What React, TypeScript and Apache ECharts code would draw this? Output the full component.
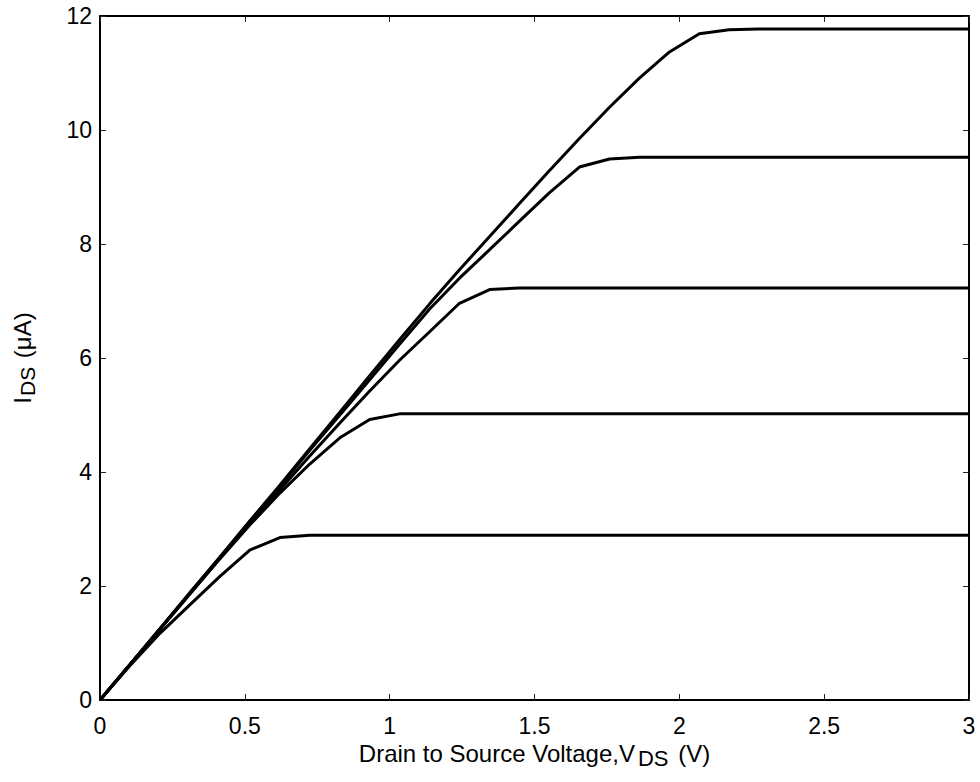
import React, { useEffect, useRef } from "react";
import * as echarts from "echarts";

const voltage = [
  0, 0.103, 0.207, 0.31, 0.414, 0.517, 0.621, 0.724, 0.828, 0.931, 1.034, 1.138, 1.241, 1.345, 1.448,
  1.552, 1.655, 1.759, 1.862, 1.966, 2.069, 2.172, 2.276, 2.379, 2.483, 2.586, 2.69, 2.793, 2.897, 3.0,
];

const curve1 = [
  0, 0.62, 1.25, 1.88, 2.51, 3.14, 3.77, 4.41, 5.05, 5.69, 6.32, 6.95, 7.55, 8.13, 8.71, 9.29, 9.85,
  10.4, 10.91, 11.37, 11.69, 11.76, 11.77, 11.77, 11.77, 11.77, 11.77, 11.77, 11.77, 11.77,
];
const curve2 = [
  0, 0.62, 1.25, 1.88, 2.5, 3.13, 3.75, 4.38, 5.0, 5.62, 6.24, 6.86, 7.4, 7.9, 8.4, 8.9, 9.35, 9.49,
  9.52, 9.52, 9.52, 9.52, 9.52, 9.52, 9.52, 9.52, 9.52, 9.52, 9.52, 9.52,
];
const curve3 = [
  0, 0.62, 1.24, 1.86, 2.48, 3.09, 3.69, 4.28, 4.86, 5.42, 5.96, 6.46, 6.96, 7.2, 7.23, 7.23, 7.23,
  7.23, 7.23, 7.23, 7.23, 7.23, 7.23, 7.23, 7.23, 7.23, 7.23, 7.23, 7.23, 7.23,
];
const curve4 = [
  0, 0.62, 1.24, 1.86, 2.48, 3.07, 3.63, 4.14, 4.6, 4.92, 5.02, 5.02, 5.02, 5.02, 5.02, 5.02, 5.02,
  5.02, 5.02, 5.02, 5.02, 5.02, 5.02, 5.02, 5.02, 5.02, 5.02, 5.02, 5.02, 5.02,
];
const curve5 = [
  0, 0.6, 1.17, 1.67, 2.17, 2.63, 2.85, 2.89, 2.89, 2.89, 2.89, 2.89, 2.89, 2.89, 2.89, 2.89, 2.89,
  2.89, 2.89, 2.89, 2.89, 2.89, 2.89, 2.89, 2.89, 2.89, 2.89, 2.89, 2.89, 2.89,
];

const curves = [curve1, curve2, curve3, curve4, curve5];

const xTicks = { min: 0, max: 3, interval: 0.5 };
const yTicks = { min: 0, max: 12, interval: 2 };

const FONT = "'Liberation Sans', Arial, sans-serif";

export default function App() {
  const ref = useRef<HTMLDivElement>(null);

  useEffect(() => {
    if (!ref.current) return;
    const chart = echarts.init(ref.current, undefined, { renderer: "svg" });
    const tick = { show: true, inside: true, length: 6, lineStyle: { color: "#222", width: 1 } };
    const line = { show: true, onZero: false, lineStyle: { color: "#000", width: 2 } };
    const xLabel = { color: "#000", fontSize: 23, fontFamily: FONT, margin: 14 };
    const yLabel = { color: "#000", fontSize: 23, fontFamily: FONT, margin: 8 };
    const xNameStyle = {
      color: "#000",
      fontSize: 24,
      fontFamily: FONT,
      rich: { sub: { fontSize: 22, fontFamily: FONT, color: "#000", padding: [10, 3, 0, 3] } },
    };
    const yNameStyle = {
      color: "#000",
      fontSize: 24,
      fontFamily: FONT,
      rich: { sub: { fontSize: 21, fontFamily: FONT, color: "#000", padding: [10, 2, 0, 1] } },
    };
    chart.setOption({
      animation: false,
      backgroundColor: "#fff",
      grid: { left: 100, right: 11, top: 16, bottom: 82 },
      xAxis: [
        {
          type: "value",
          ...xTicks,
          position: "bottom",
          axisLine: line,
          axisTick: tick,
          splitLine: { show: false },
          axisLabel: xLabel,
          name: "Drain to Source Voltage,V{sub|DS} (V)",
          nameLocation: "middle",
          nameGap: 32,
          nameTextStyle: xNameStyle,
        },
        {
          type: "value",
          ...xTicks,
          position: "top",
          axisLine: line,
          axisTick: tick,
          splitLine: { show: false },
          axisLabel: { show: false },
        },
      ],
      yAxis: [
        {
          type: "value",
          ...yTicks,
          position: "left",
          axisLine: line,
          axisTick: tick,
          splitLine: { show: false },
          axisLabel: yLabel,
          name: "I{sub|DS} (μA)",
          nameLocation: "middle",
          nameRotate: 90,
          nameGap: 62,
          nameTextStyle: yNameStyle,
        },
        {
          type: "value",
          ...yTicks,
          position: "right",
          axisLine: line,
          axisTick: tick,
          splitLine: { show: false },
          axisLabel: { show: false },
        },
      ],
      series: curves.map((c) => ({
        type: "line",
        xAxisIndex: 0,
        yAxisIndex: 0,
        data: voltage.map((v, i) => [v, c[i]]),
        showSymbol: false,
        symbol: "none",
        lineStyle: { color: "#000", width: 3 },
        silent: true,
      })),
    });
    return () => chart.dispose();
  }, []);

  return (
    <div
      ref={ref}
      style={{ position: "fixed", left: 0, top: 0, width: 980, height: 782, background: "#fff" }}
    />
  );
}
